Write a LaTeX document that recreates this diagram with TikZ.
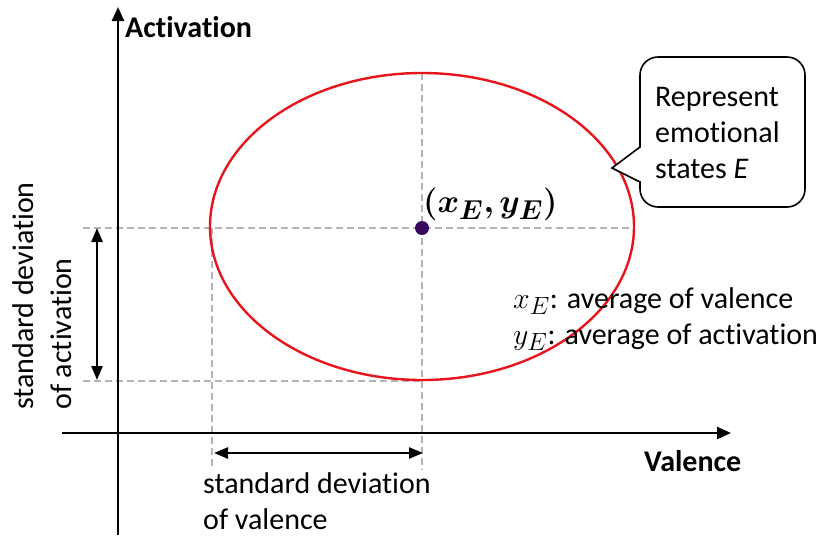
\documentclass[tikz,border=0pt]{standalone}
\usepackage{amsmath,bm,graphicx}
\usepackage{fontspec}
\setmainfont{Carlito}[Ligatures=NoCommon]
\usetikzlibrary{arrows.meta}
\newcommand{\mathbig}[2]{\scalebox{#1}{$#2$}}
\definecolor{ellred}{RGB}{232,20,28}
\definecolor{dashgray}{RGB}{180,180,180}
\definecolor{dotpurple}{RGB}{55,10,95}
\tikzset{
  axisline/.style={line width=2.4pt,-{Triangle[length=14pt,width=12pt]}},
  dimarrow/.style={line width=2.4pt,{Triangle[length=14pt,width=11pt]}-{Triangle[length=14pt,width=11pt]}},
  guide/.style={dashgray,line width=1.8pt,dash pattern=on 7pt off 4pt},
  lbl/.style={inner sep=0pt,font=\fontsize{30}{36}\selectfont},
  boldlbl/.style={inner sep=0pt,font=\fontsize{30}{36}\selectfont\bfseries},
}
\begin{document}
\begin{tikzpicture}[x=1pt,y=-1pt]
\useasboundingbox (0,0) rectangle (825,539);
% coordinates
\coordinate (yaxisS) at (118,535);
\coordinate (yaxisE) at (118,7);
\coordinate (xaxisS) at (62,433);
\coordinate (xaxisE) at (731,433);
\coordinate (C) at (422,228);
\coordinate (Ctop) at (422,73);
\coordinate (Cbot) at (422,470);
\coordinate (Lbot) at (212,470);
\coordinate (Ltop) at (212,228);
\coordinate (hA) at (83,228);
\coordinate (hB) at (634,228);
\coordinate (lA) at (83,381);
\coordinate (lB) at (422,381);
\coordinate (va) at (97,228);
\coordinate (vb) at (97,380);
\coordinate (ha) at (214,453);
\coordinate (hb) at (423,453);
% guides
\draw[guide] (hA) -- (hB);
\draw[guide] (lA) -- (lB);
\draw[guide] (Ctop) -- (Cbot);
\draw[guide] (Ltop) -- (Lbot);
% ellipse
\draw[ellred,line width=2.4pt] (422,226.5) ellipse [x radius=212, y radius=153.5];
% axes
\draw[axisline] (yaxisS) -- (yaxisE);
\draw[axisline] (xaxisS) -- (xaxisE);
% dimension arrows
\draw[dimarrow] (va) -- (vb);
\draw[dimarrow] (ha) -- (hb);
% dot
\fill[dotpurple] (C) circle (7);
% labels
\node[boldlbl,anchor=base west] (act) at (125,37) {Activation};
\node[boldlbl,anchor=base west] (val) at (644,471) {Valence};
\node[lbl,anchor=base west] (xy) at (423,212) {\mathbig{1.32}{\bm{(x_E,y_E)}}};
\node[lbl,anchor=base west] (avx) at (513,308) {\mathbig{1.2}{x_E}: average of valence};
\node[lbl,anchor=base west] (avy) at (513,344) {\mathbig{1.2}{y_E}: average of activation};
\node[lbl,anchor=base west] (sdv1) at (203,493) {standard deviation};
\node[lbl,anchor=base west] (sdv2) at (203,529) {of valence};
\node[lbl,anchor=base west,rotate=90] (sda1) at (34,410) {standard deviation};
\node[lbl,anchor=base west,rotate=90] (sda2) at (71,410) {of activation};
% callout
\draw[line width=1.6pt,fill=white] (640,182) -- (612,168) -- (640,147)
  [rounded corners=18pt] -- (640,57) -- (805,57) -- (805,207) -- (640,207) [sharp corners] -- cycle;
\node[lbl,anchor=base west,align=left] (call) at (655,178) {Represent\\emotional\\states \textit{E}};
\end{tikzpicture}
\end{document}
